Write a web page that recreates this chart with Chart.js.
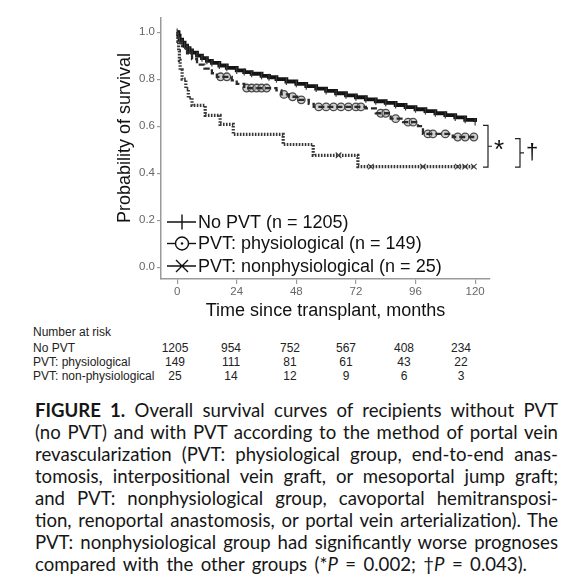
<!DOCTYPE html>
<html lang="en">
<head>
<meta charset="UTF-8">
<title>Overall survival by PVT group</title>
<script src="https://cdn.jsdelivr.net/npm/chart.js"></script>
<style>
  body { margin: 0; background: #fff; width: 584px; height: 581px; position: relative; overflow: hidden;
         font-family: "Liberation Sans", Arial, sans-serif; }
  #wrap { position: absolute; left: 0; top: 0; width: 584px; height: 325px; }
  .risk { position: absolute; font-size: 12px; line-height: 14px; color: #222; white-space: nowrap; }
  .num { transform: translateX(-50%); }
  #caption { position: absolute; left: 35px; top: 399px; width: 523px; font-family: Lato, "Open Sans", sans-serif;
             font-size: 18.6px; line-height: 22px; color: #161616; }
  #caption div { white-space: nowrap; }
</style>
</head>
<body>
<div id="wrap"><canvas id="km" width="584" height="325"></canvas></div>
<div id="riskTable"></div>
<div id="caption">
  <div class="j"><b>FIGURE 1.</b> Overall survival curves of recipients without PVT</div>
  <div class="j">(no PVT) and with PVT according to the method of portal vein</div>
  <div class="j">revascularization (PVT: physiological group, end-to-end anas-</div>
  <div class="j">tomosis, interpositional vein graft, or mesoportal jump graft;</div>
  <div class="j">and PVT: nonphysiological group, cavoportal hemitransposi-</div>
  <div class="j">tion, renoportal anastomosis, or portal vein arterialization). The</div>
  <div class="j">PVT: nonphysiological group had significantly worse prognoses</div>
  <div class="j" data-w="492">compared with the other groups (*<i>P</i> = 0.002; †<i>P</i> = 0.043).</div>
</div>

<script>
// survival curves (months, probability)
const groupNames = ['No PVT (n = 1205)', 'PVT: physiological (n = 149)', 'PVT: nonphysiological (n = 25)'];

const noPvtT = [0, 0.5, 1, 2, 3, 4, 5, 6, 8, 10, 12, 14, 17, 20, 24, 27, 30, 34, 37, 40, 44, 48, 52, 56, 60,
                64, 68, 72, 76, 80, 84, 88, 92, 96, 100, 104, 108, 112, 116, 120];
const noPvtS = [1.0, 0.985, 0.968, 0.955, 0.942, 0.932, 0.922, 0.913, 0.9, 0.889, 0.878, 0.869, 0.858, 0.848,
                0.837, 0.83, 0.823, 0.814, 0.808, 0.8, 0.79, 0.78, 0.77, 0.76, 0.75, 0.74, 0.731, 0.723, 0.714,
                0.706, 0.699, 0.69, 0.681, 0.672, 0.664, 0.655, 0.647, 0.637, 0.627, 0.618];

const physT = [0, 0.8, 2, 4, 6, 8, 11, 14, 16, 22, 24, 27, 40, 42, 45, 49, 53, 55, 76, 80, 86, 91, 97, 99, 111, 120];
const physS = [1.0, 0.97, 0.94, 0.91, 0.885, 0.862, 0.845, 0.825, 0.81, 0.795, 0.78, 0.762, 0.752, 0.735, 0.725,
               0.712, 0.695, 0.682, 0.676, 0.655, 0.632, 0.617, 0.6, 0.567, 0.554, 0.554];

const nonPhysT = [0, 0.3, 0.6, 0.9, 1.2, 2, 3.5, 4.5, 6, 11.3, 17.3, 22.6, 42.7, 54.8, 72.8, 120];
const nonPhysS = [1.0, 0.96, 0.92, 0.88, 0.84, 0.8, 0.76, 0.72, 0.688, 0.646, 0.608, 0.565, 0.522, 0.476, 0.428, 0.428];

// censored observations
const physCensorT = [17.5, 20, 28, 30, 32, 34, 36, 43, 46.5, 50, 57, 60, 63, 66, 69, 72, 74, 82, 84, 88, 93, 95,
                     101, 103, 108, 113, 116, 119.5];
const physCensorS = [0.81, 0.81, 0.762, 0.762, 0.762, 0.762, 0.762, 0.735, 0.725, 0.712, 0.682, 0.682, 0.682,
                     0.682, 0.682, 0.682, 0.682, 0.655, 0.655, 0.632, 0.617, 0.617, 0.567, 0.567, 0.567, 0.554,
                     0.554, 0.554];
const nonPhysCensorT = [65, 78, 99, 113, 116, 119.5];
const nonPhysCensorS = [0.476, 0.428, 0.428, 0.428, 0.428, 0.428];

const xTicks = [0, 24, 48, 72, 96, 120];
const yTicks = [0, 0.2, 0.4, 0.6, 0.8, 1.0];

// number at risk table
const riskGroups = ['No PVT', 'PVT: physiological', 'PVT: non-physiological'];
const riskNoPvt = [1205, 954, 752, 567, 408, 234];
const riskPhys = [149, 111, 81, 61, 43, 22];
const riskNonPhys = [25, 14, 12, 9, 6, 3];

const zip = (t, s) => t.map((v, i) => ({ x: v, y: s[i] }));

// table layout
const riskColX = [175, 231, 290, 346, 404, 461];
const riskRowTop = [341, 355, 369];
const tbl = document.getElementById('riskTable');
function addCell(txt, left, top, cls) {
  const d = document.createElement('div');
  d.className = 'risk ' + (cls || '');
  d.style.left = left + 'px';
  d.style.top = top + 'px';
  d.textContent = txt;
  tbl.appendChild(d);
}
addCell('Number at risk', 33, 325);
[riskNoPvt, riskPhys, riskNonPhys].forEach((row, r) => {
  addCell(riskGroups[r], 33, riskRowTop[r]);
  row.forEach((n, c) => addCell(String(n), riskColX[c], riskRowTop[r], 'num'));
});

// justify caption lines to full width
document.querySelectorAll('#caption .j').forEach(el => {
  const rg = document.createRange();
  rg.selectNodeContents(el);
  const w = rg.getBoundingClientRect().width;
  const target = +(el.dataset.w || 523);
  const gaps = (el.textContent.match(/ /g) || []).length;
  if (gaps) el.style.wordSpacing = ((target - w) / gaps) + 'px';
});

const axisColor = '#9a9a9a';

const extras = {
  id: 'extras',
  afterDraw(chart) {
    const { ctx, chartArea, scales } = chart;
    const y = scales.y;
    ctx.save();

    // y axis title
    ctx.fillStyle = '#111';
    ctx.font = '18px "Liberation Sans", Arial, sans-serif';
    ctx.textAlign = 'center';
    ctx.textBaseline = 'middle';
    ctx.translate(125, 138);
    ctx.rotate(-Math.PI / 2);
    ctx.fillText('Probability of survival', 0, 0);
    ctx.setTransform(1, 0, 0, 1, 0, 0);

    // legend
    const lx0 = chartArea.left + 6, lx1 = chartArea.left + 35, mx = chartArea.left + 21;
    const rows = [chartArea.bottom - 57, chartArea.bottom - 35.5, chartArea.bottom - 13];
    ctx.strokeStyle = '#111';
    ctx.lineWidth = 1.4;
    ctx.textAlign = 'left';
    rows.forEach((ry, i) => {
      ctx.beginPath();
      ctx.moveTo(lx0, ry); ctx.lineTo(lx1, ry);
      if (i === 0) {
        ctx.moveTo(mx, ry - 7.5); ctx.lineTo(mx, ry + 7.5);
      } else if (i === 2) {
        ctx.moveTo(mx - 6, ry - 6); ctx.lineTo(mx + 6, ry + 6);
        ctx.moveTo(mx - 6, ry + 6); ctx.lineTo(mx + 6, ry - 6);
      }
      ctx.stroke();
      if (i === 1) {
        ctx.fillStyle = '#fff';
        ctx.beginPath(); ctx.arc(mx, ry, 6.5, 0, Math.PI * 2); ctx.fill(); ctx.stroke();
        ctx.fillStyle = '#111';
        ctx.beginPath(); ctx.arc(mx, ry, 1.2, 0, Math.PI * 2); ctx.fill();
      }
      ctx.fillStyle = '#111';
      ctx.fillText(groupNames[i], lx1 + 2, ry + 1);
    });

    // significance brackets
    function bracket(x, v0, v1, mark, size) {
      const t = y.getPixelForValue(v0), b = y.getPixelForValue(v1), m = (t + b) / 2;
      ctx.strokeStyle = '#222';
      ctx.lineWidth = 1.2;
      ctx.beginPath();
      ctx.moveTo(x - 5, t); ctx.lineTo(x, t); ctx.lineTo(x, b); ctx.lineTo(x - 5, b);
      ctx.moveTo(x, m); ctx.lineTo(x + 4, m);
      ctx.stroke();
      ctx.fillStyle = '#111';
      ctx.font = size + 'px "Liberation Sans", Arial, sans-serif';
      ctx.textAlign = 'left';
      ctx.fillText(mark, x + 6, m + (mark === '*' ? 5 : 0));
    }
    bracket(chartArea.right - 2, 0.603, 0.426, '*', 26);
    bracket(chartArea.right + 30, 0.547, 0.426, '†', 22);

    ctx.restore();
  }
};

new Chart(document.getElementById('km'), {
  type: 'line',
  data: {
    datasets: [
      {
        label: groupNames[0], data: zip(noPvtT, noPvtS), stepped: 'before',
        borderColor: '#141414', borderWidth: 3.8,
        pointStyle: 'line', pointRotation: 90, pointRadius: 3.5, pointBorderWidth: 1.2,
        pointBorderColor: '#3a3a3a', pointHoverRadius: 0
      },
      {
        label: groupNames[1], data: zip(physT, physS), stepped: 'before',
        borderColor: '#2a2a2a', borderWidth: 2.3, borderDash: [6, 3], pointRadius: 0
      },
      {
        label: groupNames[2], data: zip(nonPhysT, nonPhysS), stepped: 'before',
        borderColor: '#363636', borderWidth: 3.2, borderDash: [1.6, 1.4], pointRadius: 0
      },
      {
        label: 'phys censored', data: zip(physCensorT, physCensorS), showLine: false,
        pointStyle: 'circle', pointRadius: 3.8, pointBorderWidth: 1.3,
        pointBorderColor: '#4a4a4a', pointBackgroundColor: 'rgba(170,170,170,0.55)'
      },
      {
        label: 'nonphys censored', data: zip(nonPhysCensorT, nonPhysCensorS), showLine: false,
        pointStyle: 'crossRot', pointRadius: 4, pointBorderWidth: 1.1, pointBorderColor: '#444'
      }
    ]
  },
  options: {
    responsive: false,
    animation: false,
    events: [],
    layout: { padding: { left: 0, top: 18, right: 94, bottom: 0 } },
    plugins: { legend: { display: false }, tooltip: { enabled: false } },
    scales: {
      x: {
        type: 'linear', min: -6.5, max: 126,
        afterBuildTicks: s => { s.ticks = xTicks.map(v => ({ value: v })); },
        afterFit: s => { s.height = 46; },
        ticks: { color: '#666', font: { size: 11.5 }, padding: 1 },
        grid: { drawOnChartArea: false, drawTicks: true, tickLength: 5, color: axisColor, lineWidth: 1.2 },
        border: { display: true, color: axisColor, width: 1.5 },
        title: {
          display: true, text: 'Time since transplant, months', color: '#111',
          font: { size: 18, family: '"Liberation Sans", Arial, sans-serif' }, padding: { top: 0, bottom: 3 }
        }
      },
      y: {
        type: 'linear', min: -0.05, max: 1.06,
        afterBuildTicks: s => { s.ticks = yTicks.map(v => ({ value: v })); },
        afterFit: s => { s.width = 161; },
        ticks: { color: '#666', font: { size: 11.5 }, padding: 2, callback: v => v.toFixed(1) },
        grid: { drawOnChartArea: false, drawTicks: true, tickLength: 4, color: axisColor, lineWidth: 1.2 },
        border: { display: true, color: axisColor, width: 1.5 }
      }
    }
  },
  plugins: [extras]
});
</script>
</body>
</html>
